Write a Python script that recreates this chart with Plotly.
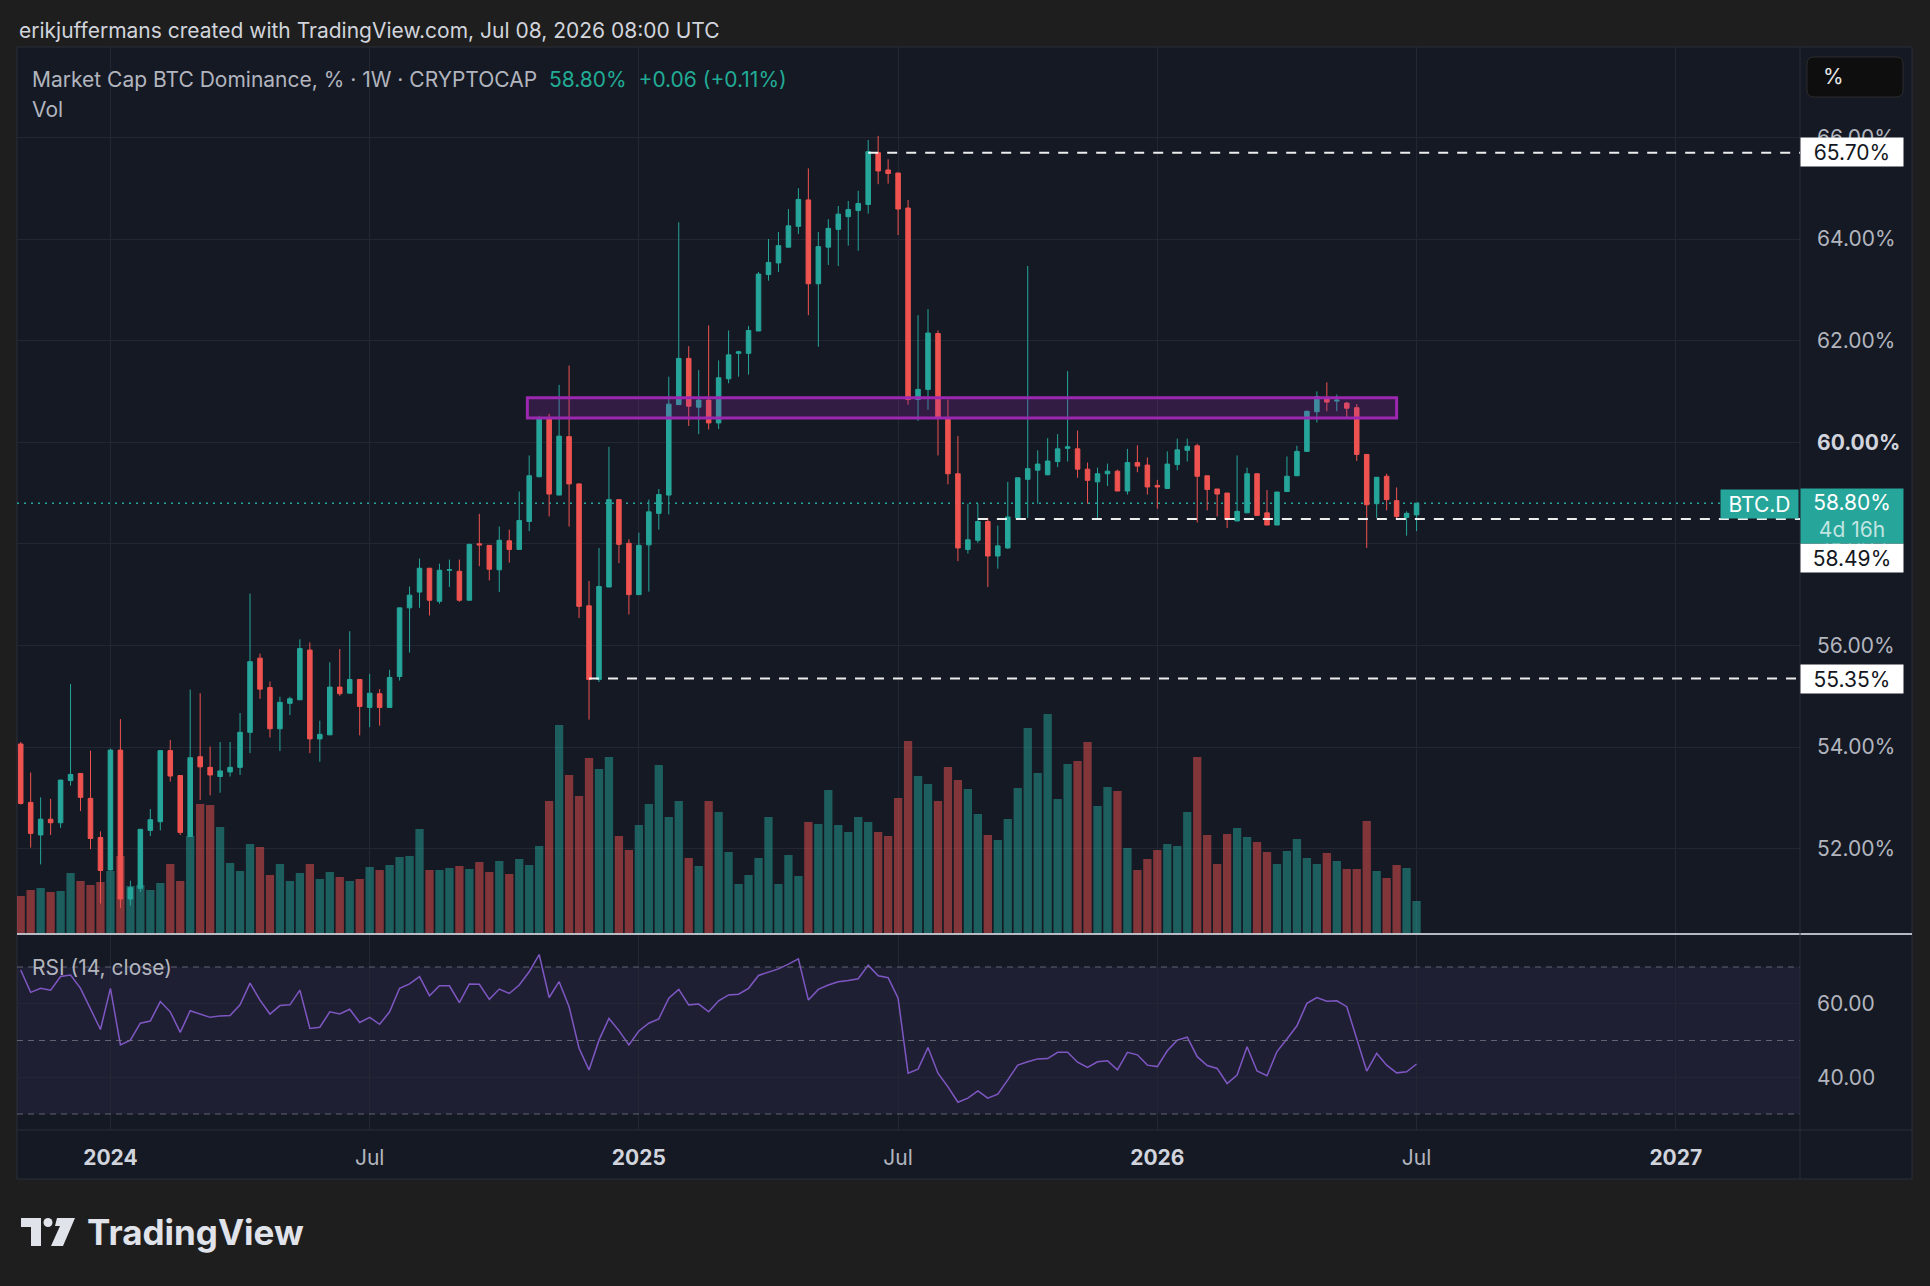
import plotly.graph_objects as go
import pandas as pd

# ---------------- data ----------------
start_date = "2023-10-30"   # first weekly bar

opens = [
    54.06, 52.91, 52.27, 52.58, 52.51, 53.34, 53.48, 52.99, 52.22, 51.58,
    53.94, 51.01, 51.22, 52.36, 52.53, 53.93, 53.44, 52.24, 53.81, 53.60,
    53.42, 53.51, 53.60, 54.29, 55.75, 55.17, 54.36, 54.86, 54.93, 55.91,
    54.16, 54.24, 55.18, 55.06, 55.33, 54.78, 55.05, 54.78, 55.39, 56.74,
    57.05, 57.52, 56.87, 57.48, 57.46, 56.89, 58.00, 57.97, 57.49, 58.06,
    57.89, 58.44, 59.32, 60.46, 58.96, 60.11, 59.18, 56.78, 55.33, 57.15,
    58.87, 58.01, 57.00, 57.98, 58.60, 58.96, 60.74, 61.65, 60.69, 60.83,
    60.38, 61.25, 61.75, 61.75, 62.19, 63.30, 63.53, 63.84, 64.25, 64.77,
    63.12, 63.84, 64.19, 64.44, 64.56, 64.68, 65.70, 65.36, 65.30, 64.61,
    60.84, 61.04, 62.14, 60.46, 59.38, 57.89, 58.07, 58.44, 57.76, 57.92,
    58.51, 59.27, 59.45, 59.36, 59.62, 59.88, 59.87, 59.47, 59.22, 59.38,
    59.43, 59.04, 59.60, 59.55, 59.15, 59.09, 59.56, 59.84, 59.93, 59.34,
    59.08, 59.00, 58.45, 58.61, 59.38, 58.61, 58.37, 59.03, 59.34, 59.82,
    60.60, 60.87, 60.81, 60.77, 60.68, 59.76, 58.79, 59.33, 58.85, 58.52,
    58.57,
]
highs = [
    54.10, 53.50, 53.01, 52.98, 53.35, 55.24, 53.48, 53.93, 52.34, 53.97,
    54.55, 51.37, 52.38, 52.78, 53.93, 54.14, 53.44, 55.13, 55.06, 54.01,
    54.10, 54.10, 54.67, 57.02, 55.84, 55.29, 54.99, 54.99, 56.12, 56.06,
    54.52, 55.67, 55.93, 56.28, 55.33, 55.44, 55.14, 55.52, 56.74, 57.16,
    57.71, 57.52, 57.61, 57.69, 57.69, 58.00, 58.59, 57.97, 58.34, 58.28,
    59.03, 59.74, 60.52, 60.56, 61.13, 61.51, 59.19, 57.27, 57.92, 59.91,
    58.87, 58.09, 58.22, 58.87, 59.08, 61.29, 64.33, 61.89, 61.42, 62.30,
    61.61, 62.20, 61.80, 62.29, 63.35, 64.00, 64.14, 64.59, 65.00, 65.39,
    64.14, 64.39, 64.65, 64.75, 64.95, 65.95, 66.03, 65.57, 65.30, 64.77,
    62.50, 62.62, 62.20, 60.84, 60.12, 58.79, 58.79, 58.51, 58.36, 59.22,
    59.30, 63.47, 59.84, 60.08, 60.16, 61.40, 60.23, 59.60, 59.50, 59.58,
    59.46, 59.87, 59.94, 59.70, 59.26, 59.82, 60.07, 60.07, 59.97, 59.34,
    59.08, 59.00, 59.74, 59.50, 59.38, 59.06, 59.02, 59.72, 59.93, 60.62,
    61.00, 61.18, 60.94, 60.79, 60.75, 59.76, 59.31, 59.38, 59.11, 58.64,
    58.80,
]
lows = [
    52.87, 52.02, 51.69, 52.27, 52.41, 53.24, 52.74, 51.99, 50.92, 51.58,
    50.83, 50.88, 51.15, 52.25, 52.36, 53.32, 52.27, 52.24, 52.96, 53.05,
    53.10, 53.42, 53.45, 53.88, 54.95, 54.19, 53.92, 54.63, 54.93, 53.88,
    53.71, 54.24, 55.01, 55.06, 54.23, 54.39, 54.42, 54.78, 55.31, 55.86,
    56.74, 56.59, 56.82, 57.15, 56.86, 56.89, 57.56, 57.28, 57.05, 57.63,
    57.89, 58.25, 59.32, 58.54, 58.96, 58.34, 56.54, 54.54, 55.28, 57.15,
    57.62, 56.61, 57.00, 57.06, 58.28, 58.58, 60.74, 60.32, 60.16, 60.25,
    60.26, 61.16, 61.29, 61.33, 62.19, 63.18, 63.35, 63.84, 64.10, 62.50,
    61.88, 63.49, 63.47, 63.87, 63.77, 64.50, 65.08, 65.09, 64.08, 60.74,
    60.42, 60.64, 59.74, 59.17, 57.66, 57.81, 58.02, 57.15, 57.51, 57.90,
    58.51, 58.51, 58.79, 59.35, 59.51, 59.62, 59.30, 58.79, 58.50, 59.14,
    59.04, 58.97, 59.41, 58.97, 58.69, 59.09, 59.45, 59.62, 58.42, 58.66,
    58.54, 58.31, 58.45, 58.61, 58.56, 58.37, 58.37, 59.02, 59.34, 59.82,
    60.39, 60.61, 60.61, 60.46, 59.63, 57.92, 58.51, 58.66, 58.49, 58.16,
    58.25,
]
closes = [
    52.89, 52.30, 52.58, 52.51, 53.35, 53.46, 53.01, 52.20, 51.57, 53.94,
    51.01, 51.23, 52.38, 52.57, 53.93, 53.43, 52.32, 53.79, 53.61, 53.45,
    53.53, 53.60, 54.29, 55.68, 55.14, 54.36, 54.88, 54.95, 55.94, 54.16,
    54.25, 55.18, 55.05, 55.33, 54.80, 55.06, 54.78, 55.37, 56.74, 56.99,
    57.52, 56.89, 57.48, 57.49, 56.89, 57.99, 57.98, 57.50, 58.07, 57.89,
    58.46, 59.34, 60.46, 58.98, 60.12, 59.18, 56.77, 55.33, 57.16, 58.87,
    57.99, 57.00, 57.97, 58.63, 58.97, 60.75, 61.65, 60.71, 60.83, 60.38,
    61.27, 61.72, 61.78, 62.20, 63.31, 63.54, 63.87, 64.26, 64.78, 63.12,
    63.85, 64.21, 64.49, 64.58, 64.70, 65.72, 65.34, 65.29, 64.59, 60.84,
    61.04, 62.15, 60.48, 59.38, 57.92, 58.08, 58.44, 57.76, 57.96, 58.53,
    59.30, 59.48, 59.57, 59.63, 59.87, 59.91, 59.47, 59.25, 59.38, 59.43,
    59.04, 59.60, 59.53, 59.12, 59.12, 59.57, 59.85, 59.92, 59.33, 59.07,
    58.98, 58.48, 58.64, 59.38, 58.56, 58.37, 59.02, 59.33, 59.82, 60.61,
    60.90, 60.79, 60.83, 60.67, 59.76, 58.77, 59.31, 58.87, 58.54, 58.60,
    58.80,
]
volumes = [
    38, 44, 46, 42, 43, 61, 53, 49, 52, 63,
    78, 48, 49, 44, 51, 70, 53, 98, 130, 129,
    107, 71, 63, 90, 87, 59, 70, 53, 61, 70,
    55, 62, 57, 53, 55, 67, 64, 69, 77, 78,
    105, 64, 64, 66, 68, 65, 72, 62, 73, 60,
    75, 69, 88, 133, 209, 159, 138, 176, 165, 177,
    98, 84, 109, 130, 169, 117, 133, 76, 68, 133,
    122, 82, 50, 59, 76, 117, 50, 79, 58, 112,
    110, 144, 109, 102, 117, 112, 102, 98, 136, 193,
    158, 150, 133, 167, 154, 145, 120, 99, 94, 115,
    146, 206, 161, 220, 135, 170, 173, 192, 128, 147,
    143, 86, 64, 75, 84, 90, 88, 122, 177, 99,
    70, 100, 106, 97, 92, 82, 70, 83, 95, 76,
    70, 81, 73, 65, 65, 113, 63, 56, 69, 66,
    33,
]
rsi_values = [
    69.2, 63.1, 64.2, 63.7, 67.4, 67.8, 64.2, 58.8, 53.0, 64.2,
    48.8, 50.1, 54.7, 55.3, 60.6, 57.8, 52.2, 58.1, 57.2, 56.3,
    56.7, 56.8, 59.7, 65.6, 61.0, 57.2, 59.5, 59.7, 63.7, 53.3,
    53.6, 57.8, 57.2, 58.5, 54.9, 56.3, 54.4, 57.8, 64.2, 65.4,
    67.4, 62.2, 64.9, 64.9, 60.3, 65.4, 65.3, 61.2, 64.0, 62.8,
    65.1, 68.7, 73.4, 61.7, 66.0, 59.2, 47.9, 42.0, 50.1, 56.0,
    52.7, 48.8, 52.6, 54.7, 55.9, 61.5, 63.9, 59.7, 59.9, 57.8,
    60.8, 62.4, 62.6, 64.2, 67.7, 68.5, 69.5, 70.8, 72.2, 61.0,
    63.9, 65.1, 66.0, 66.3, 66.8, 70.5, 67.6, 67.1, 61.5, 41.1,
    42.2, 48.1, 41.1, 37.4, 33.2, 34.3, 36.3, 34.3, 35.4, 39.3,
    43.3, 44.2, 45.0, 45.1, 46.8, 46.8, 44.1, 42.7, 44.2, 44.5,
    42.0, 46.8, 46.1, 43.3, 42.9, 47.2, 50.1, 50.9, 45.6, 43.2,
    42.4, 38.3, 40.6, 48.3, 41.7, 40.4, 47.0, 50.4, 54.0, 60.1,
    61.7, 60.7, 60.8, 59.2, 50.4, 41.7, 46.5, 43.3, 41.2, 41.5,
    43.6,
]

time_tick_dates = ["2024-01-01", "2024-07-01", "2025-01-06", "2025-07-07",
                   "2026-01-05", "2026-07-06", "2027-01-04"]
time_tick_labels = ["2024", "Jul", "2025", "Jul", "2026", "Jul", "2027"]
price_ticks = [52, 54, 56, 58, 60, 62, 64, 66]
rsi_ticks = [40, 60]
rsi_levels = [70, 50, 30]
level_lines = [65.70, 58.49, 55.35]
level_start_bar = [85, 96, 57]
zone_low, zone_high = 60.475, 60.875
last_price = 58.80

# ---------------- styling ----------------
UP, DN = "#26a69a", "#ef5350"
UP_VOL, DN_VOL = "rgba(38,166,154,0.5)", "rgba(239,83,80,0.5)"
PANEL = "#151924"
OUTER = "#1e1e1e"
GRID = "#232734"
BORDER = "#2a2e39"
TXT = "#b2b5be"
FONT = "Inter, Roboto, sans-serif"
FS = 21

W, H = 1930, 1286
L, R, T, B = 17, 1800, 47, 1130     # plot area in pixels
SPLIT = 934                          # main / RSI separator
PANEL_R, PANEL_B = 1912, 1179


def px(x):
    return (x - L) / (R - L)


def py(y):
    return (B - y) / (B - T)


dates = pd.date_range(start_date, periods=len(closes), freq="7D")
x_start = dates[0] - pd.Timedelta(days=2.6)
x_end = dates[0] + pd.Timedelta(days=1249.2)
dsplit = py(SPLIT)

fig = go.Figure()

vol_colors = [UP_VOL if c >= o else DN_VOL for o, c in zip(opens, closes)]
fig.add_trace(go.Bar(x=dates, y=volumes, marker=dict(color=vol_colors, line=dict(width=0)),
                     xaxis="x", yaxis="y", hoverinfo="skip", showlegend=False))
fig.add_trace(go.Candlestick(
    x=dates, open=opens, high=highs, low=lows, close=closes, xaxis="x", yaxis="y2",
    increasing=dict(line=dict(color=UP, width=1), fillcolor=UP),
    decreasing=dict(line=dict(color=DN, width=1), fillcolor=DN),
    whiskerwidth=0, hoverinfo="skip", showlegend=False))
fig.add_trace(go.Scatter(x=dates, y=rsi_values, mode="lines", xaxis="x", yaxis="y3",
                         line=dict(color="#7e57c2", width=1.5), hoverinfo="skip", showlegend=False))

shapes = []
# chart panel
shapes.append(dict(type="rect", xref="paper", yref="paper", x0=px(L), x1=px(PANEL_R),
                   y0=py(PANEL_B), y1=py(T), fillcolor=PANEL, line=dict(color=BORDER, width=1), layer="below"))
# RSI band
shapes.append(dict(type="rect", xref="paper", yref="y3", x0=0, x1=1, y0=30, y1=70,
                   fillcolor="rgba(126,87,194,0.10)", line=dict(width=0), layer="below"))
for lv in rsi_levels:
    shapes.append(dict(type="line", xref="paper", yref="y3", x0=0, x1=1, y0=lv, y1=lv,
                       line=dict(color="rgba(120,123,134,0.75)", width=1, dash="6px,5px"), layer="above"))
# separators
shapes.append(dict(type="line", xref="paper", yref="paper", x0=px(L), x1=px(PANEL_R), y0=dsplit, y1=dsplit,
                   line=dict(color="rgba(200,203,212,0.9)", width=2), layer="above"))
shapes.append(dict(type="line", xref="paper", yref="paper", x0=1, x1=1, y0=py(PANEL_B), y1=py(T),
                   line=dict(color=BORDER, width=1), layer="above"))
shapes.append(dict(type="line", xref="paper", yref="paper", x0=px(L), x1=px(PANEL_R), y0=0, y1=0,
                   line=dict(color=BORDER, width=1), layer="above"))
# last price dotted line
shapes.append(dict(type="line", xref="paper", yref="y2", x0=0, x1=1, y0=last_price, y1=last_price,
                   line=dict(color=UP, width=1.5, dash="2px,5px"), layer="below"))
# horizontal levels
for lv, b in zip(level_lines, level_start_bar):
    shapes.append(dict(type="line", xref="x", yref="y2", x0=dates[b], x1=x_end, y0=lv, y1=lv,
                       line=dict(color="rgba(255,255,255,0.92)", width=2, dash="10px,9px"), layer="above"))
# purple zone
shapes.append(dict(type="rect", xref="x", yref="y2",
                   x0=dates[0] + pd.Timedelta(days=355.7), x1=dates[0] + pd.Timedelta(days=966),
                   y0=zone_low, y1=zone_high, fillcolor="rgba(156,39,176,0.22)",
                   line=dict(color="#9c27b0", width=3), layer="above"))


def rrect(x0, y0, x1, y1, r):
    pts = [("M", x0 + r, y0), ("L", x1 - r, y0), ("Q", x1, y0, x1, y0 + r), ("L", x1, y1 - r),
           ("Q", x1, y1, x1 - r, y1), ("L", x0 + r, y1), ("Q", x0, y1, x0, y1 - r),
           ("L", x0, y0 + r), ("Q", x0, y0, x0 + r, y0)]
    s = ""
    for p in pts:
        if p[0] == "Q":
            s += f"Q{px(p[1]):.5f},{py(p[2]):.5f} {px(p[3]):.5f},{py(p[4]):.5f} "
        else:
            s += f"{p[0]}{px(p[1]):.5f},{py(p[2]):.5f} "
    return s + "Z"


shapes.append(dict(type="path", xref="paper", yref="paper", path=rrect(1807, 57, 1903, 97, 7),
                   fillcolor="#0e0e0e", line=dict(color="#2c2c2c", width=1), layer="above"))


def poly(points):
    s = "M" + " L".join(f"{px(x):.5f},{py(y):.5f}" for x, y in points)
    return s + " Z"


LOGO = "#e1e3ea"
shapes.append(dict(type="path", xref="paper", yref="paper",
                   path=poly([(21, 1218), (41, 1218), (41, 1246), (31, 1246), (31, 1227), (21, 1227)]),
                   fillcolor=LOGO, line=dict(width=0), layer="above"))
shapes.append(dict(type="circle", xref="paper", yref="paper", x0=px(43.5), x1=px(52.5),
                   y0=py(1227), y1=py(1218), fillcolor=LOGO, line=dict(width=0), layer="above"))
shapes.append(dict(type="path", xref="paper", yref="paper",
                   path=poly([(57, 1218), (75, 1218), (63, 1246), (51, 1246), (60, 1226), (55, 1226)]),
                   fillcolor=LOGO, line=dict(width=0), layer="above"))

ann = []
ann.append(dict(xref="paper", yref="paper", x=px(17), y=py(31), xanchor="left", yanchor="middle",
                text="erikjuffermans created with TradingView.com, Jul 08, 2026 08:00 UTC",
                showarrow=False, font=dict(size=FS, color="#d1d4dc", family=FONT)))
ann.append(dict(xref="paper", yref="paper", x=px(30), y=py(79), xanchor="left", yanchor="middle",
                text=("Market Cap BTC Dominance, % · 1W · CRYPTOCAP  "
                      "<span style='color:#22ab94'>58.80%  +0.06 (+0.11%)</span>"),
                showarrow=False, font=dict(size=FS, color=TXT, family=FONT)))
ann.append(dict(xref="paper", yref="paper", x=px(30), y=py(109), xanchor="left", yanchor="middle",
                text="Vol", showarrow=False, font=dict(size=FS, color=TXT, family=FONT)))
ann.append(dict(xref="paper", yref="paper", x=px(30), y=py(967), xanchor="left", yanchor="middle",
                text="RSI (14, close)", showarrow=False, font=dict(size=FS, color=TXT, family=FONT)))
ann.append(dict(xref="paper", yref="paper", x=px(1821), y=py(77), xanchor="left", yanchor="middle",
                text="%", showarrow=False, font=dict(size=FS, color="#e8e8e8", family=FONT)))
for txt, yc in [("65.70%", 152.5), ("58.49%", 558), ("55.35%", 679)]:
    ann.append(dict(xref="paper", yref="paper", x=px(1852), y=py(yc), xanchor="center", yanchor="middle",
                    text=txt, showarrow=False, width=102, height=28, borderpad=0, bgcolor="#ffffff",
                    font=dict(size=FS, color="#131722", family=FONT)))
ann.append(dict(xref="paper", yref="paper", x=px(1852), y=py(516), xanchor="center", yanchor="middle",
                text="58.80%<br><span style='color:rgba(255,255,255,0.72)'>4d 16h</span>",
                showarrow=False, width=102, height=54, borderpad=0, bgcolor="#26a69a",
                font=dict(size=FS, color="#ffffff", family=FONT)))
ann.append(dict(xref="paper", yref="paper", x=px(1759.5), y=py(504), xanchor="center", yanchor="middle",
                text="BTC.D", showarrow=False, width=77, height=28, borderpad=0, bgcolor="#26a69a",
                font=dict(size=FS, color="#ffffff", family=FONT)))
ann.append(dict(xref="paper", yref="paper", x=px(85), y=py(1232), xanchor="left", yanchor="middle",
                text="<b>TradingView</b>", showarrow=False, font=dict(size=35, color=LOGO, family=FONT)))

x_ticktext = [f"<b>{t}</b>" if t.isdigit() else t for t in time_tick_labels]
x_ticktext = [f"<span style='color:#d1d4dc'>{t}</span>" if t.startswith("<b>") else t for t in x_ticktext]
p_ticktext = [f"<b><span style='color:#d1d4dc'>{v:.2f}%</span></b>" if v == 60 else f"{v:.2f}%" for v in price_ticks]

fig.update_layout(
    width=W, height=H,
    margin=dict(l=L, r=W - R, t=T, b=H - B, pad=0),
    paper_bgcolor=OUTER, plot_bgcolor=PANEL,
    showlegend=False, hovermode=False,
    bargap=0.17, boxgap=0.35,
    font=dict(family=FONT, color=TXT, size=FS),
    shapes=shapes, annotations=ann,
    xaxis=dict(type="date", range=[x_start, x_end], anchor="y3", tickmode="array",
               tickvals=time_tick_dates, ticktext=x_ticktext, showgrid=True, gridcolor=GRID, gridwidth=1,
               zeroline=False, showline=False, ticks="", ticklabelstandoff=13,
               tickfont=dict(size=FS, color=TXT, family=FONT),
               rangeslider=dict(visible=False), fixedrange=True),
    yaxis=dict(domain=[dsplit, 1], range=[0, SPLIT - T], visible=False, fixedrange=True),
    yaxis2=dict(overlaying="y", anchor="x", side="right", range=[50.32, 67.78], tickmode="array",
                tickvals=price_ticks, ticktext=p_ticktext, showgrid=True, gridcolor=GRID, gridwidth=1,
                zeroline=False, showline=False, ticks="", ticklabelstandoff=16,
                tickfont=dict(size=FS, color=TXT, family=FONT), fixedrange=True),
    yaxis3=dict(domain=[0, dsplit], anchor="x", side="right", range=[25.65, 78.98], tickmode="array",
                tickvals=rsi_ticks, ticktext=[f"{v:.2f}" for v in rsi_ticks], showgrid=True,
                gridcolor=GRID, gridwidth=1, zeroline=False, showline=False, ticks="",
                ticklabelstandoff=16, tickfont=dict(size=FS, color=TXT, family=FONT), fixedrange=True),
)

fig.write_html("out.html")
